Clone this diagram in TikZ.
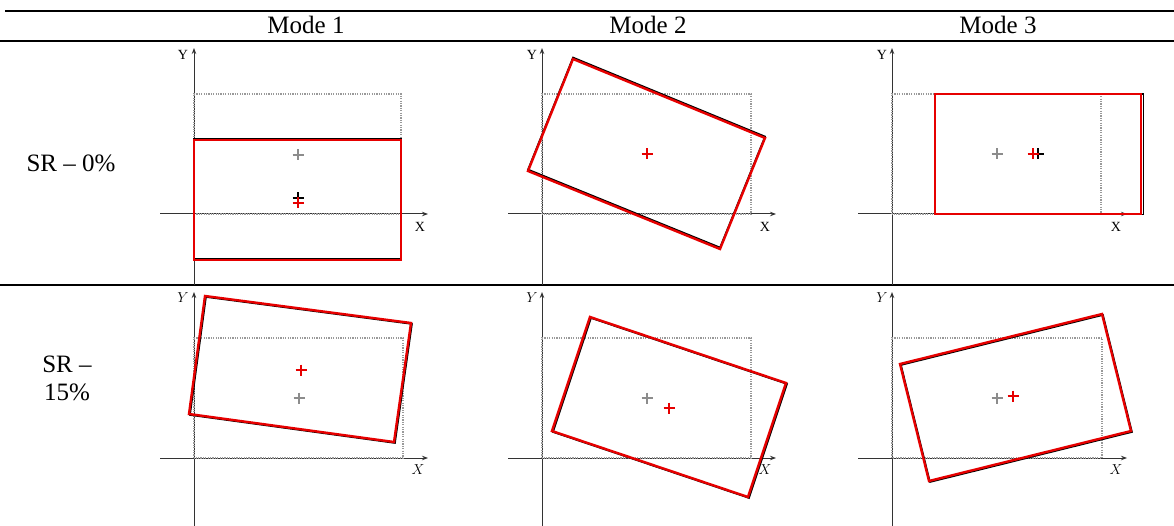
\documentclass[tikz,border=0pt]{standalone}
\usepackage{fontspec}
\setmainfont{Liberation Serif}
\usetikzlibrary{arrows.meta}

\definecolor{srred}{RGB}{230,0,0}
\tikzset{
  axis/.style={black!80, line width=1pt, -{Stealth[length=6pt,width=4.5pt]}},
  frame/.style={black!40, line width=1.3pt, dash pattern=on 1.2pt off 1.2pt},
  body/.style={srred, line width=2.4pt, line join=miter},
  shadow/.style={black, line width=1.6pt},
  rule/.style={black, line width=1.5pt},
  head/.style={font=\fontsize{25}{30}\selectfont},
  axlab/.style={font=\fontsize{14}{14}\selectfont, inner sep=0pt},
}
% centre marker
\newcommand{\ctrmark}[2]{\draw[#1] (#2) ++(-5.5,0) -- ++(11,0) (#2) ++(0,-5.5) -- ++(0,11);}

\begin{document}
\begin{tikzpicture}[x=1pt,y=-1pt]
\useasboundingbox (0,0) rectangle (1174,526);

% table rules
\draw[rule] (5,11) -- (1174,11);
\draw[rule] (0,41) -- (1174,41);
\draw[rule] (0,285) -- (1174,285);

\node[head, anchor=base] (m1) at (306,34) {Mode 1};
\node[head, anchor=base] (m2) at (648,34) {Mode 2};
\node[head, anchor=base] (m3) at (998,34) {Mode 3};

\node[head, anchor=base] (sr0) at (71,172) {SR -- 0\%};
\node[head, align=center, anchor=base] (sr15) at (67,400) {SR --\\[-2pt]15\%};

% ---- SR 0% ----
\draw[axis] (160,214) -- (428,214);
\draw[axis] (194,285) -- (194,48);
\node[axlab] (x11) at (420,227) {X};
\node[axlab] (y11) at (183,55) {Y};
\draw[frame] (194,214) rectangle (401,94);
\draw[shadow] (194,138.5) rectangle (401,258.5);
\draw[body] (194,140) rectangle (401,260);
\ctrmark{black!45, line width=1.1pt}{298,155}
\ctrmark{black, line width=1.3pt}{298,198}
\ctrmark{srred, line width=1.6pt}{298,203}

\draw[axis] (508,214) -- (776,214);
\draw[axis] (542,285) -- (542,48);
\node[axlab] (x12) at (765,227) {X};
\node[axlab] (y12) at (532,55) {Y};
\draw[frame] (542,214) rectangle (751,94);
\draw[shadow] (573,57.5) -- (765,136.5) -- (720,247.5) -- (528,169.5) -- cycle;
\draw[body] (573,59) -- (765,138) -- (720,249) -- (528,171) -- cycle;
\ctrmark{srred, line width=1.6pt}{647,154}

\draw[axis] (858,214) -- (1127,214);
\draw[axis] (892,285) -- (892,48);
\node[axlab] (x13) at (1116,227) {X};
\node[axlab] (y13) at (882,55) {Y};
\draw[frame] (892,214) rectangle (1101,94);
\draw[shadow] (935,94) rectangle (1143.5,214.5);
\draw[body] (935,94) rectangle (1141,214);
\ctrmark{black!45, line width=1.1pt}{997,154}
\ctrmark{black, line width=1.3pt}{1038,154}
\ctrmark{srred, line width=1.6pt}{1033,154}

% ---- SR 15% ----
\draw[axis] (160,458) -- (428,458);
\draw[axis] (194,526) -- (194,292);
\node[axlab] (x21) at (418,470) {$X$};
\node[axlab] (y21) at (183,298) {$Y$};
\draw[frame] (194,458) rectangle (403,338);
\draw[shadow] (206,297) -- (412,324) -- (395,443) -- (190,415) -- cycle;
\draw[body] (205,296) -- (411,323) -- (394,442) -- (189,414) -- cycle;
\ctrmark{black!45, line width=1.1pt}{299,398}
\ctrmark{srred, line width=1.6pt}{301,370}

\draw[axis] (508,458) -- (776,458);
\draw[axis] (542,526) -- (542,292);
\node[axlab] (x22) at (765,470) {$X$};
\node[axlab] (y22) at (532,298) {$Y$};
\draw[frame] (542,458) rectangle (751,338);
\draw[shadow] (591,318) -- (787,384) -- (749,498) -- (553,432) -- cycle;
\draw[body] (590,317) -- (786,383) -- (748,497) -- (552,431) -- cycle;
\ctrmark{black!45, line width=1.1pt}{647,398}
\ctrmark{srred, line width=1.6pt}{669,408}

\draw[axis] (858,458) -- (1127,458);
\draw[axis] (892,526) -- (892,292);
\node[axlab] (x23) at (1116,470) {$X$};
\node[axlab] (y23) at (882,298) {$Y$};
\draw[frame] (892,458) rectangle (1102,338);
\draw[shadow] (901,365) -- (1103,315) -- (1132,432) -- (930,482) -- cycle;
\draw[body] (900,364) -- (1102,314) -- (1131,431) -- (929,481) -- cycle;
\ctrmark{black!45, line width=1.1pt}{997,398}
\ctrmark{srred, line width=1.6pt}{1013,396}
\end{tikzpicture}
\end{document}
